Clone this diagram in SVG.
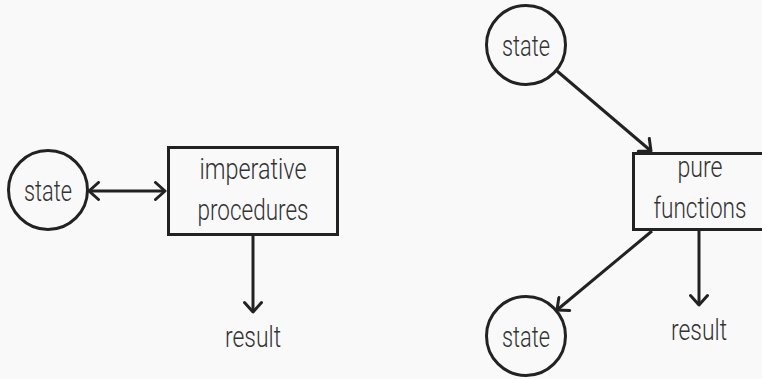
<svg xmlns="http://www.w3.org/2000/svg" width="762" height="379" viewBox="0 0 762 379">
<defs>
<marker id="arr" viewBox="0 0 14 20" refX="12" refY="10" markerWidth="14" markerHeight="20" markerUnits="userSpaceOnUse" orient="auto-start-reverse">
<polyline points="2.5,1.5 12,10 2.5,18.5" fill="none" stroke="#222" stroke-width="3" stroke-linecap="round" stroke-linejoin="round"/>
</marker>
<style>
.n{fill:none;stroke:#222;stroke-width:3}
.c{fill:none;stroke:#222;stroke-width:3}
.t{font-family:Roboto,"Liberation Sans",sans-serif;font-weight:300;font-size:30px;fill:#333;text-anchor:middle}
</style>
</defs>
<rect width="762" height="379" fill="#f9f9f9"/>
<g id="connectors">
<line class="c" x1="89" y1="191" x2="165" y2="191" marker-start="url(#arr)" marker-end="url(#arr)"/>
<line class="c" x1="253" y1="236" x2="253" y2="312" marker-end="url(#arr)"/>
<line class="c" x1="557" y1="71" x2="651" y2="151" marker-end="url(#arr)"/>
<line class="c" x1="652" y1="231" x2="557" y2="310" marker-end="url(#arr)"/>
<line class="c" x1="699" y1="231" x2="699" y2="305" marker-end="url(#arr)"/>
</g>
<g id="state-left">
<circle class="n" cx="48" cy="190" r="39.5"/>
<text class="t" x="48" y="201" textLength="48" lengthAdjust="spacingAndGlyphs">state</text>
</g>
<g id="imperative">
<rect class="n" x="168.5" y="147.5" width="169" height="87"/>
<text class="t" x="253" y="179" textLength="107" lengthAdjust="spacingAndGlyphs">imperative</text>
<text class="t" x="253" y="220" textLength="111" lengthAdjust="spacingAndGlyphs">procedures</text>
</g>
<g id="result-left">
<text class="t" x="253" y="347" textLength="56" lengthAdjust="spacingAndGlyphs">result</text>
</g>
<g id="state-top">
<circle class="n" cx="526" cy="45" r="39.5"/>
<text class="t" x="526" y="56" textLength="48" lengthAdjust="spacingAndGlyphs">state</text>
</g>
<g id="pure">
<rect class="n" x="633.5" y="153.5" width="133" height="76"/>
<text class="t" x="700" y="177" textLength="45" lengthAdjust="spacingAndGlyphs">pure</text>
<text class="t" x="700" y="218" textLength="93" lengthAdjust="spacingAndGlyphs">functions</text>
</g>
<g id="state-bottom">
<circle class="n" cx="526" cy="336" r="39.5"/>
<text class="t" x="526" y="347" textLength="48" lengthAdjust="spacingAndGlyphs">state</text>
</g>
<g id="result-right">
<text class="t" x="699" y="340" textLength="56" lengthAdjust="spacingAndGlyphs">result</text>
</g>
</svg>
